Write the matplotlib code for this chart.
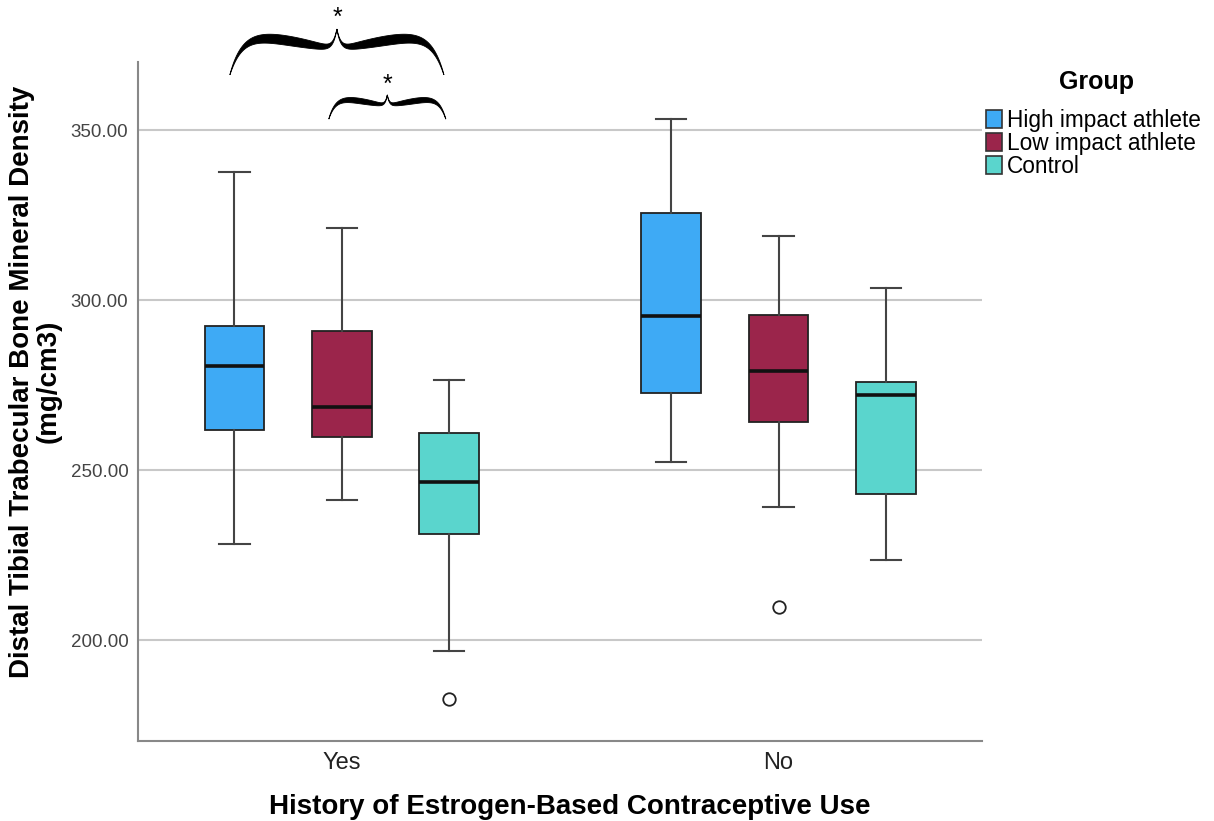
import matplotlib
matplotlib.use('Agg')
import matplotlib.pyplot as plt
import numpy as np
from matplotlib.patches import Patch, Polygon

plt.rcParams['font.family'] = ['Liberation Sans', 'DejaVu Sans']

categories = ['Yes', 'No']
groups = ['High impact athlete', 'Low impact athlete', 'Control']
colors = ['#3eaaf5', '#9b254b', '#5ad5cd']

# whislo, q1, median, q3, whishi for each group
yes_stats = [
    [228.2, 261.8, 280.5, 292.3, 337.7],
    [241.2, 259.7, 268.5, 290.9, 321.2],
    [196.9, 231.2, 246.6, 260.8, 276.6],
]
no_stats = [
    [252.5, 272.6, 295.3, 325.6, 353.2],
    [239.2, 264.2, 279.0, 295.6, 318.9],
    [223.6, 242.9, 272.2, 275.8, 303.5],
]
yes_outliers = [[], [], [182.7]]
no_outliers = [[], [209.7], []]

yticks = [200, 250, 300, 350]


def brace(ax, x0, x1, ybot, ytop, thick):
    # horizontal curly brace, opening downward, drawn as a filled shape
    t = np.linspace(0, 1, 300)
    h = (1 - np.exp(-t / 0.12)) - 0.45 * t + 0.45 * np.exp(-(1 - t) / 0.035)
    h = (h - h[0]) / (h[-1] - h[0])
    w = thick * np.sin(np.pi * t) ** 0.6
    xm = (x0 + x1) / 2
    yc = ybot + (ytop - ybot) * h
    xl = x0 + (xm - x0) * t
    xr = x1 - (x1 - xm) * t
    xs = np.concatenate([xl, xr[::-1], xr, xl[::-1]])
    ys = np.concatenate([yc + w / 2, (yc + w / 2)[::-1], yc - w / 2, (yc - w / 2)[::-1]])
    ax.add_patch(Polygon(np.column_stack([xs, ys]), closed=True, facecolor='black',
                         edgecolor='black', lw=0.6, clip_on=False, zorder=5))


fig = plt.figure(figsize=(12.14, 8.21), dpi=100)
ax = fig.add_axes([138 / 1214, 80 / 821, 844 / 1214, 679 / 821])

offset = 0.246
width = 0.137
capw = 0.069

for ci, (stats, outl) in enumerate([(yes_stats, yes_outliers), (no_stats, no_outliers)]):
    for gi in range(len(groups)):
        s = stats[gi]
        d = dict(whislo=s[0], q1=s[1], med=s[2], q3=s[3], whishi=s[4], fliers=outl[gi])
        ax.bxp([d], positions=[ci + (gi - 1) * offset], widths=width, capwidths=capw,
               patch_artist=True, manage_ticks=False,
               boxprops=dict(facecolor=colors[gi], edgecolor='#222222', linewidth=1.3),
               medianprops=dict(color='#111111', linewidth=2.6),
               whiskerprops=dict(color='#444444', linewidth=1.5),
               capprops=dict(color='#444444', linewidth=1.5),
               flierprops=dict(marker='o', markersize=9, markerfacecolor='white',
                               markeredgecolor='#222222', markeredgewidth=1.3))

ax.set_xlim(-0.467, 1.466)
ax.set_ylim(170.3, 370.0)
ax.set_xticks([0, 1])
ax.set_xticklabels(categories)
ax.set_yticks(yticks)
ax.set_yticklabels(['%.2f' % v for v in yticks])
ax.tick_params(axis='both', length=0)
ax.tick_params(axis='y', labelsize=13.5, labelcolor='#444444', pad=7)
ax.tick_params(axis='x', labelsize=17, labelcolor='#222222', pad=8)

ax.set_axisbelow(True)
ax.yaxis.grid(True, color='#c8c8c8', linewidth=1.5)
for sp in ['top', 'right']:
    ax.spines[sp].set_visible(False)
for sp in ['left', 'bottom']:
    ax.spines[sp].set_color('#888888')
    ax.spines[sp].set_linewidth(1.5)

ax.set_ylabel('Distal Tibial Trabecular Bone Mineral Density\n(mg/cm3)',
              fontsize=20, fontweight='bold', linespacing=1.0)
ax.yaxis.set_label_coords(-0.091, 0.529)
ax.set_xlabel('History of Estrogen-Based Contraceptive Use', fontsize=20, fontweight='bold')
ax.xaxis.set_label_coords(0.512, -0.078)

# significance braces
brace(ax, -0.2566, 0.2337, 366.2, 379.7, 2.8)
ax.text(-0.011, 383.0, '*', ha='center', va='center', fontsize=18, clip_on=False)
brace(ax, -0.030, 0.238, 353.2, 360.3, 1.6)
ax.text(0.105, 363.4, '*', ha='center', va='center', fontsize=18)

# legend: title placed separately, entries below it
fig.text(1096 / 1214, 1 - 82 / 821, 'Group', ha='center', va='center',
         fontsize=18, fontweight='bold')
handles = [Patch(facecolor=c, edgecolor='#333333', linewidth=1.2) for c in colors]
fig.legend(handles, groups, loc='upper left', bbox_to_anchor=(986 / 1214, 1 - 109 / 821),
           frameon=False, fontsize=16.3, handlelength=0.72, handleheight=0.85,
           handletextpad=0.22, labelspacing=0.0, borderpad=0, borderaxespad=0)

fig.savefig('out.png', dpi=100)
